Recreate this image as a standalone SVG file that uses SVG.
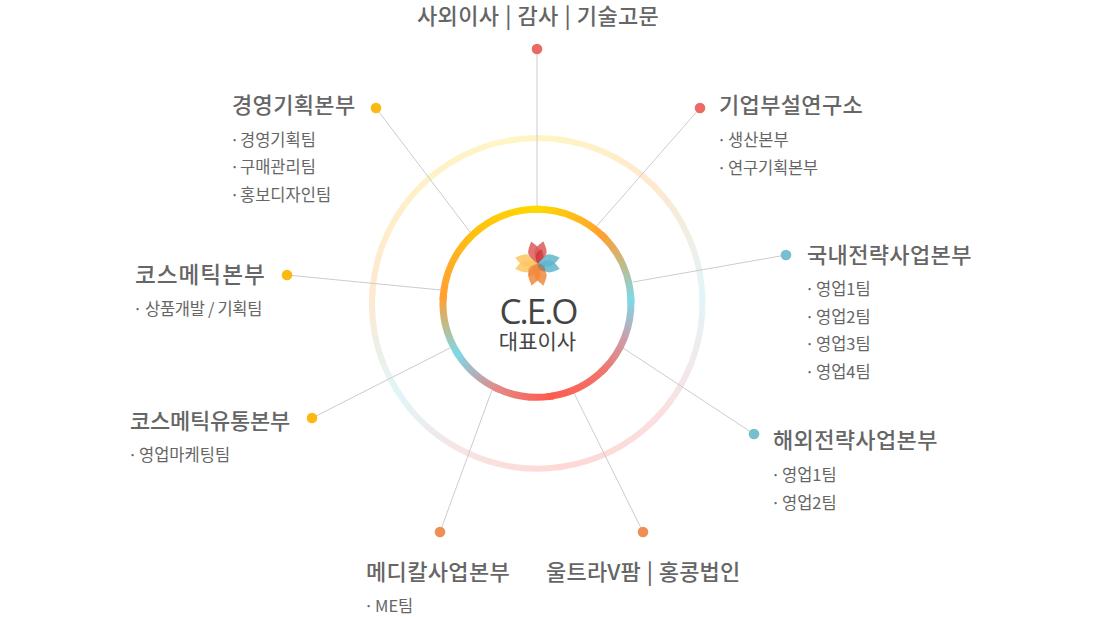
<svg xmlns="http://www.w3.org/2000/svg" xmlns:xlink="http://www.w3.org/1999/xlink" width="1100" height="617" viewBox="0 0 1100 617">
<style>
text{font-family:"Noto Sans CJK KR","Noto Sans",sans-serif;fill:#666}
.t{font-size:22px;font-weight:500;letter-spacing:.35px;word-spacing:.5px}
.s{font-size:16.5px}
.c line{stroke:#ccc;stroke-width:1}
.arc{fill:none;stroke-linecap:square}
.yl{fill:#fcb813}.rd{fill:#ec6a64}.bl{fill:#77bfce}.or{fill:#f08f55}
.pt{fill-opacity:.85}
</style>
<defs>
<linearGradient id="a1" gradientUnits="userSpaceOnUse" x1="537" y1="209.3" x2="603.5" y2="236.8"><stop offset="0" stop-color="#ffd800"/><stop offset="1" stop-color="#ffa033"/></linearGradient>
<linearGradient id="a2" gradientUnits="userSpaceOnUse" x1="603.5" y1="236.8" x2="630.9" y2="300"><stop offset="0" stop-color="#ffa033"/><stop offset="1" stop-color="#7dd8e8"/></linearGradient>
<linearGradient id="a3" gradientUnits="userSpaceOnUse" x1="630.9" y1="300" x2="603.5" y2="369.8"><stop offset="0" stop-color="#7dd8e8"/><stop offset=".5" stop-color="#c9a0aa"/><stop offset="1" stop-color="#f07670"/></linearGradient>
<linearGradient id="a4" gradientUnits="userSpaceOnUse" x1="603.5" y1="369.8" x2="550.1" y2="396.4"><stop offset="0" stop-color="#f07670"/><stop offset="1" stop-color="#ff5a4d"/></linearGradient>
<linearGradient id="a5" gradientUnits="userSpaceOnUse" x1="550.1" y1="396.4" x2="497.3" y2="388.5"><stop offset="0" stop-color="#ff5a4d"/><stop offset="1" stop-color="#e28a88"/></linearGradient>
<linearGradient id="a6" gradientUnits="userSpaceOnUse" x1="497.3" y1="388.5" x2="457.3" y2="353.1"><stop offset="0" stop-color="#e28a88"/><stop offset="1" stop-color="#7dd8e8"/></linearGradient>
<linearGradient id="a7" gradientUnits="userSpaceOnUse" x1="457.3" y1="353.1" x2="443.2" y2="297"><stop offset="0" stop-color="#7dd8e8"/><stop offset="1" stop-color="#ffa033"/></linearGradient>
<linearGradient id="a8" gradientUnits="userSpaceOnUse" x1="443.2" y1="297" x2="537" y2="209.3"><stop offset="0" stop-color="#ffa033"/><stop offset=".5" stop-color="#ffc010"/><stop offset="1" stop-color="#ffd800"/></linearGradient>
<g id="ring" class="arc">
<path stroke="url(#a1)" d="M537 209.3A94 94 0 0 1 603.5 236.8"/>
<path stroke="url(#a2)" d="M603.5 236.8A94 94 0 0 1 630.9 300"/>
<path stroke="url(#a3)" d="M630.9 300A94 94 0 0 1 603.5 369.8"/>
<path stroke="url(#a4)" d="M603.5 369.8A94 94 0 0 1 550.1 396.4"/>
<path stroke="url(#a5)" d="M550.1 396.4A94 94 0 0 1 497.3 388.5"/>
<path stroke="url(#a6)" d="M497.3 388.5A94 94 0 0 1 457.3 353.1"/>
<path stroke="url(#a7)" d="M457.3 353.1A94 94 0 0 1 443.2 297"/>
<path stroke="url(#a8)" d="M443.2 297A94 94 0 0 1 537 209.3"/>
</g>
<path id="p" d="M0 0C-3 -4 -6.500 -9 -6 -13C-5 -17 -2 -20 0 -23C2 -20 5 -17 6 -13C6.500 -9 3 -4 0 0Z"/>
</defs>
<g id="outer-ring"><use href="#ring" xlink:href="#ring" stroke-width="3.4" opacity=".23" transform="translate(537.3 303.3) scale(1.758) translate(-537 -303.3)"/></g>
<g id="connectors" class="c">
<line x1="537" y1="49" x2="537" y2="207"/>
<line x1="700" y1="108" x2="595" y2="228"/>
<line x1="786" y1="255" x2="633" y2="282"/>
<line x1="754" y1="434" x2="623" y2="348"/>
<line x1="643" y1="532" x2="574" y2="393"/>
<line x1="440" y1="532" x2="492" y2="390"/>
<line x1="312" y1="418" x2="450" y2="348"/>
<line x1="287" y1="275" x2="441" y2="290"/>
<line x1="376" y1="108" x2="470" y2="232"/>
</g>
<g id="ceo">
<circle cx="537" cy="303.3" r="94" fill="#fff"/>
<use href="#ring" xlink:href="#ring" stroke-width="7"/>
<g id="flower" transform="translate(537.5 263.5)">
<g class="pt" fill="#fcc660"><use href="#p" xlink:href="#p" transform="rotate(-75)"/><use href="#p" xlink:href="#p" transform="rotate(-104)"/></g>
<g class="pt" fill="#5fb5cc"><use href="#p" xlink:href="#p" transform="rotate(75)"/><use href="#p" xlink:href="#p" transform="rotate(104)"/></g>
<g class="pt" fill="#dc5a58"><use href="#p" xlink:href="#p" transform="rotate(-16)"/><use href="#p" xlink:href="#p" transform="rotate(15)"/></g>
<g class="pt" fill="#f08a3c"><use href="#p" xlink:href="#p" transform="rotate(195)"/><use href="#p" xlink:href="#p" transform="rotate(165)"/></g>
<use href="#p" xlink:href="#p" fill="#c8323c" fill-opacity=".7" transform="rotate(15) scale(.65)"/>
<use href="#p" xlink:href="#p" fill="#f08a3c" fill-opacity=".8" transform="rotate(215) scale(.7)"/>
<use href="#p" xlink:href="#p" fill="#7a6a58" fill-opacity=".5" transform="rotate(135) scale(.5)"/>
</g>
<text x="538" y="324" text-anchor="middle" style="font-family:'Open Sans',sans-serif;font-size:35px;fill:#444" letter-spacing="-2">C.E.O</text>
<text x="537.5" y="349" text-anchor="middle" style="font-size:21px;fill:#444">대표이사</text>
</g>
<g id="n-top"><circle class="rd" cx="537" cy="49" r="5.3"/><text class="t" x="417" y="24">사외이사 | 감사 | 기술고문</text></g>
<g id="n-lab"><circle class="rd" cx="700" cy="108" r="5.3"/><text class="t" x="719" y="113">기업부설연구소</text>
<text class="s" x="717" y="146">·<tspan x="728">생산본부</tspan></text><text class="s" x="717" y="174" letter-spacing="-.2">·<tspan x="728">연구기획본부</tspan></text></g>
<g id="n-dom"><circle class="bl" cx="786" cy="255" r="5.3"/><text class="t" x="807" y="263">국내전략사업본부</text>
<text class="s" x="805" y="295">·<tspan x="816">영업1팀</tspan></text><text class="s" x="805" y="323">·<tspan x="816">영업2팀</tspan></text><text class="s" x="805" y="350">·<tspan x="816">영업3팀</tspan></text><text class="s" x="805" y="378">·<tspan x="816">영업4팀</tspan></text></g>
<g id="n-ovs"><circle class="bl" cx="754" cy="434" r="5.3"/><text class="t" x="773" y="448">해외전략사업본부</text>
<text class="s" x="771" y="481">·<tspan x="782">영업1팀</tspan></text><text class="s" x="771" y="509">·<tspan x="782">영업2팀</tspan></text></g>
<g id="n-hk"><circle class="or" cx="643" cy="532" r="5.3"/><text class="t" x="546" y="580" style="letter-spacing:.2px">울트라V팜 | 홍콩법인</text></g>
<g id="n-med"><circle class="or" cx="440" cy="532" r="5.3"/><text class="t" x="366" y="580">메디칼사업본부</text>
<text class="s" x="364" y="612">·<tspan x="375">ME팀</tspan></text></g>
<g id="n-dist"><circle class="yl" cx="312" cy="418" r="5.3"/><text class="t" x="130" y="429" style="letter-spacing:-.25px">코스메틱유통본부</text>
<text class="s" x="128" y="461">·<tspan x="139">영업마케팅팀</tspan></text></g>
<g id="n-cos"><circle class="yl" cx="287" cy="275" r="5.3"/><text class="t" x="135" y="283" style="font-size:22.600px;letter-spacing:1px">코스메틱본부</text>
<text class="s" x="133" y="315" letter-spacing="-.3">·<tspan x="145">상품개발 / 기획팀</tspan></text></g>
<g id="n-plan"><circle class="yl" cx="376" cy="108" r="5.3"/><text class="t" x="232" y="113">경영기획본부</text>
<text class="s" x="230" y="146">·<tspan x="240">경영기획팀</tspan></text><text class="s" x="230" y="173">·<tspan x="240">구매관리팀</tspan></text><text class="s" x="230" y="201">·<tspan x="240">홍보디자인팀</tspan></text></g>
</svg>
